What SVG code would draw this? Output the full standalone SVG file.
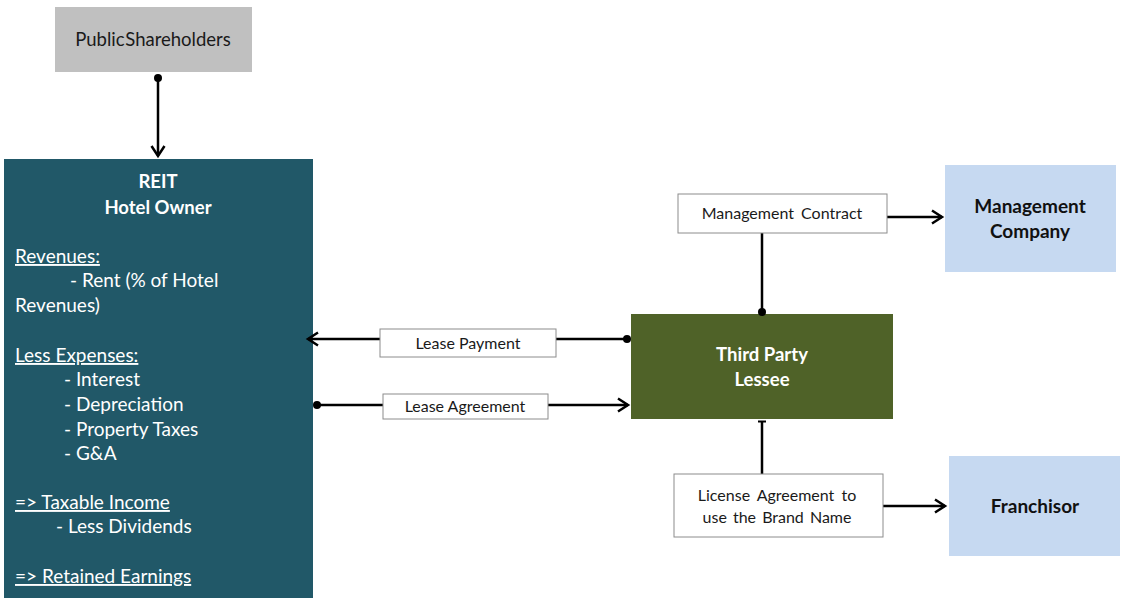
<svg xmlns="http://www.w3.org/2000/svg" width="1121" height="601" viewBox="0 0 1121 601">
<style>
.lbl{fill:#fff;stroke:#8c8c8c;stroke-width:1}
.lt{font-family:Lato,"Open Sans",sans-serif;font-size:16px;fill:#1a1a1a;text-anchor:middle}
.wt{font-family:Lato,"Open Sans",sans-serif;font-size:19px;fill:#fff}
.wb{font-family:Lato,"Open Sans",sans-serif;font-size:18.5px;fill:#fff;font-weight:bold;text-anchor:middle}
.bt{font-family:Lato,"Open Sans",sans-serif;font-size:19px;fill:#111;font-weight:bold;text-anchor:middle}
.u{text-decoration:underline}
.c{stroke:#000;stroke-width:2.5;fill:none}
</style>
<defs>
<marker id="arr" markerWidth="16" markerHeight="16" refX="12" refY="8" orient="auto" markerUnits="userSpaceOnUse">
<path d="M2,1.5 L12,8 L2,14.5" fill="none" stroke="#000" stroke-width="2.5"/>
</marker>
<marker id="dot" markerWidth="10" markerHeight="10" refX="5" refY="5" orient="auto" markerUnits="userSpaceOnUse">
<circle cx="5" cy="5" r="4" fill="#000"/>
</marker>
</defs>
<rect width="1121" height="601" fill="#fff"/>
<g id="shareholders">
<rect x="55" y="7" width="197" height="65" fill="#c0c0c0"/>
<text x="153" y="46" class="lt" style="font-size:18.5px;word-spacing:-4px">Public Shareholders</text>
</g>
<g id="reit">
<rect x="4" y="159" width="309" height="439" fill="#215868"/>
<text x="158" y="188" class="wb">REIT</text>
<text x="158" y="214" class="wb">Hotel Owner</text>
<text x="15" y="263" class="wt u">Revenues:</text>
<text x="70" y="287" class="wt">- Rent (% of Hotel</text>
<text x="15" y="312" class="wt">Revenues)</text>
<text x="15" y="362" class="wt u">Less Expenses:</text>
<text x="64" y="386" class="wt">- Interest</text>
<text x="64" y="411" class="wt">- Depreciation</text>
<text x="64" y="436" class="wt">- Property Taxes</text>
<text x="64" y="460" class="wt">- G&amp;A</text>
<text x="15" y="509" class="wt u">=&gt; Taxable Income</text>
<text x="56" y="533" class="wt">- Less Dividends</text>
<text x="15" y="583" class="wt u">=&gt; Retained Earnings</text>
</g>
<g id="lessee">
<rect x="631" y="314" width="262" height="105" fill="#4f6228"/>
<text x="762" y="361" class="wb">Third Party</text>
<text x="762" y="386" class="wb">Lessee</text>
</g>
<g id="mgmt-company">
<rect x="945" y="165" width="171" height="107" fill="#c6d9f1"/>
<text x="1030" y="213" class="bt">Management</text>
<text x="1030" y="238" class="bt">Company</text>
</g>
<g id="franchisor">
<rect x="949" y="456" width="171" height="100" fill="#c6d9f1"/>
<text x="1035" y="513" class="bt">Franchisor</text>
</g>
<g id="connectors">
<line x1="158" y1="78" x2="158" y2="156" class="c" marker-start="url(#dot)" marker-end="url(#arr)"/>
<line x1="627" y1="339" x2="308" y2="339" class="c" marker-start="url(#dot)" marker-end="url(#arr)"/>
<line x1="317" y1="405" x2="628" y2="405" class="c" marker-start="url(#dot)" marker-end="url(#arr)"/>
<line x1="762" y1="233" x2="762" y2="312" class="c" marker-end="url(#dot)"/>
<line x1="887" y1="217" x2="942" y2="217" class="c" marker-end="url(#arr)"/>
<line x1="762" y1="421" x2="762" y2="474" class="c"/>
<line x1="758" y1="421.5" x2="766" y2="421.5" stroke="#000" stroke-width="2"/>
<line x1="883" y1="506" x2="945" y2="506" class="c" marker-end="url(#arr)"/>
</g>
<g id="label-lease-payment">
<rect x="380" y="329" width="176" height="28" class="lbl"/>
<text x="468" y="349" class="lt">Lease Payment</text>
</g>
<g id="label-lease-agreement">
<rect x="383" y="394" width="165" height="25" class="lbl"/>
<text x="465" y="412" class="lt">Lease Agreement</text>
</g>
<g id="label-mgmt-contract">
<rect x="678" y="194" width="209" height="39" class="lbl"/>
<text x="782" y="219" class="lt" style="word-spacing:3px">Management Contract</text>
</g>
<g id="label-license">
<rect x="674" y="474" width="209" height="63" class="lbl"/>
<text x="777" y="501" class="lt" style="word-spacing:3px">License Agreement to</text>
<text x="777" y="523" class="lt" style="word-spacing:2px">use the Brand Name</text>
</g>
</svg>
